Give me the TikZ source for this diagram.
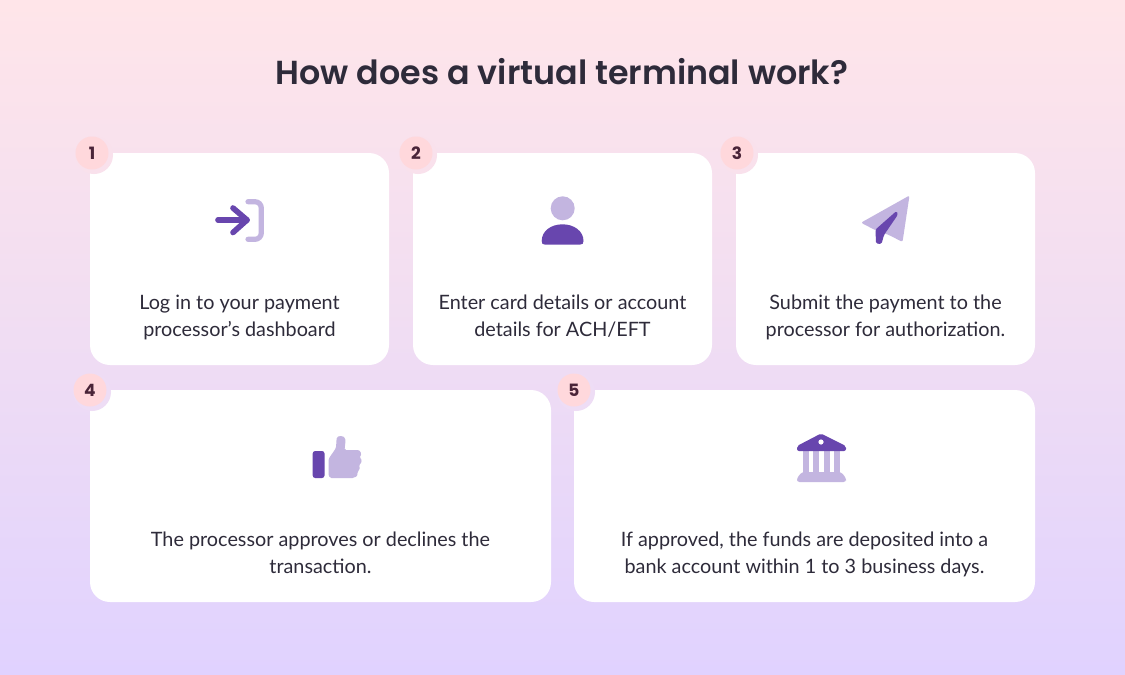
\documentclass[tikz,border=0pt]{standalone}
\usepackage{fontspec}
\setmainfont{Lato}
\newfontfamily\titlefont{Poppins SemiBold}
\newfontfamily\numfont{Poppins}
\definecolor{bgtop}{HTML}{FFE5E9}
\definecolor{bgmid}{HTML}{F0DDF3}
\definecolor{bgbot}{HTML}{E0D2FF}
\definecolor{haloa}{HTML}{F9E1EC}
\definecolor{halob}{HTML}{EEDDF5}
\definecolor{ink}{HTML}{2E2B3A}
\definecolor{badge}{HTML}{FFD8DC}
\definecolor{badgeink}{HTML}{4A2438}
\definecolor{deep}{HTML}{6846AE}
\definecolor{soft}{HTML}{C3B5E0}
\newcommand{\tline}[1]{\strut #1}
\tikzset{
  x=1pt,y=-1pt,
  card/.style={fill=white,rounded corners=20pt},
  numdot/.style={circle,fill=badge,minimum size=33pt,inner sep=0pt,text=badgeink,font=\numfont\bfseries\fontsize{17}{17}\selectfont},
  cardtext/.style={align=center,text=ink,inner sep=0pt,font=\fontsize{19.8}{27}\selectfont},
  softline/.style={draw=soft,line width=5.2pt,line cap=round,line join=round},
  deepline/.style={draw=deep,line width=5.6pt,line cap=round,line join=round},
}
\begin{document}
\begin{tikzpicture}
\useasboundingbox (0,0) rectangle (1125,675);
\fill[top color=bgtop,bottom color=bgbot,middle color=bgmid,shading angle=0] (0,0) rectangle (1125,675);
\node[text=ink,font=\titlefont\fontsize{33.3}{40}\selectfont] (title) at (562,72) {How does a virtual terminal work?};
% cards
\fill[card] (90,153) rectangle (389,365);
\fill[card] (413,153) rectangle (712,365);
\fill[card] (736,153) rectangle (1035,365);
\fill[card] (90,390) rectangle (551,602);
\fill[card] (574,390) rectangle (1035,602);
% badges
\foreach \n/\cx/\cy/\hc in {1/92/153/haloa,2/416/153/haloa,3/737/153/haloa,4/90/390/halob,5/574/390/halob}{
  \node[circle,fill=\hc,minimum size=38pt,inner sep=0pt] (h\n) at (\cx+2,\cy+2) {};
  \node[numdot] (b\n) at (\cx,\cy) {\n};
}
% texts
\node[cardtext] (t1) at (239.5,318) {\tline{Log in to your payment}\\\tline{processor’s dashboard}};
\node[cardtext] (t2) at (562.5,318) {\tline{Enter card details or account}\\\tline{details for ACH/EFT}};
\node[cardtext] (t3) at (885.5,318) {\tline{Submit the payment to the}\\\tline{processor for authorization.}};
\node[cardtext] (t4) at (320.5,555) {\tline{The processor approves or declines the}\\\tline{transaction.}};
\node[cardtext] (t5) at (804.5,555) {\tline{If approved, the funds are deposited into a}\\\tline{bank account within 1 to 3 business days.}};
% icon 1
\draw[softline] (248,201.7) -- (255,201.7) arc[start angle=-90,end angle=0,radius=6.3] -- (261.3,233) arc[start angle=0,end angle=90,radius=6.3] -- (248,239.3);
\draw[deepline] (218,220) -- (247,220);
\draw[deepline] (233,208) -- (247,220) -- (233,232.5);
% icon 2
\fill[soft] (562.7,208.3) circle[radius=12];
\fill[deep] (541.7,241) .. controls (541.7,231) and (551,224.3) .. (562.5,224.3) .. controls (574,224.3) and (583.5,231) .. (583.5,241) .. controls (583.5,243.5) and (582.5,244.6) .. (580,244.6) -- (545,244.6) .. controls (542.5,244.6) and (541.7,243.5) .. (541.7,241) -- cycle;
% icon 3
\fill[soft,rounded corners=2pt] (861,222.7) -- (909.5,195.5) -- (902.5,242) -- (889,235) -- (875,230) -- cycle;
\fill[deep,rounded corners=1.5pt] (896.5,211) -- (898,214.5) -- (884,235) -- (881.5,244) -- (876,243.5) -- (875.5,229.5) -- cycle;
% icon 4
\fill[deep,rounded corners=2.5pt] (312.7,451) rectangle (324.5,478);
\fill[soft,rounded corners=1.5pt] (328.5,459) -- (336,448) -- (336.5,440) .. controls (337,435) and (345,435) .. (345.5,441) -- (344.5,450) -- (356,450) .. controls (361,450) and (362,455) .. (359,457.5) .. controls (362,459) and (362,463) .. (358.5,465) .. controls (360,467) and (360,470) .. (357,472) .. controls (358,476) and (355,478) .. (351,478) -- (333,478) .. controls (330,478) and (328.5,476) .. (328.5,473) -- cycle;
% icon 5
\fill[soft] (803.3,450) rectangle (809.3,473);
\fill[soft] (813.3,450) rectangle (819.3,473);
\fill[soft] (823.5,450) rectangle (830,473);
\fill[soft] (834,450) rectangle (840,473);
\fill[soft,rounded corners=2.5pt] (797,482) -- (797,478) -- (802,472) -- (841,472) -- (846,478) -- (846,482) -- cycle;
\fill[deep,rounded corners=2pt] (797,451) -- (797,446) -- (821,433.5) -- (846,446) -- (846,451) -- cycle;
\fill[white] (821,442) circle[radius=2.6];
\end{tikzpicture}
\end{document}
